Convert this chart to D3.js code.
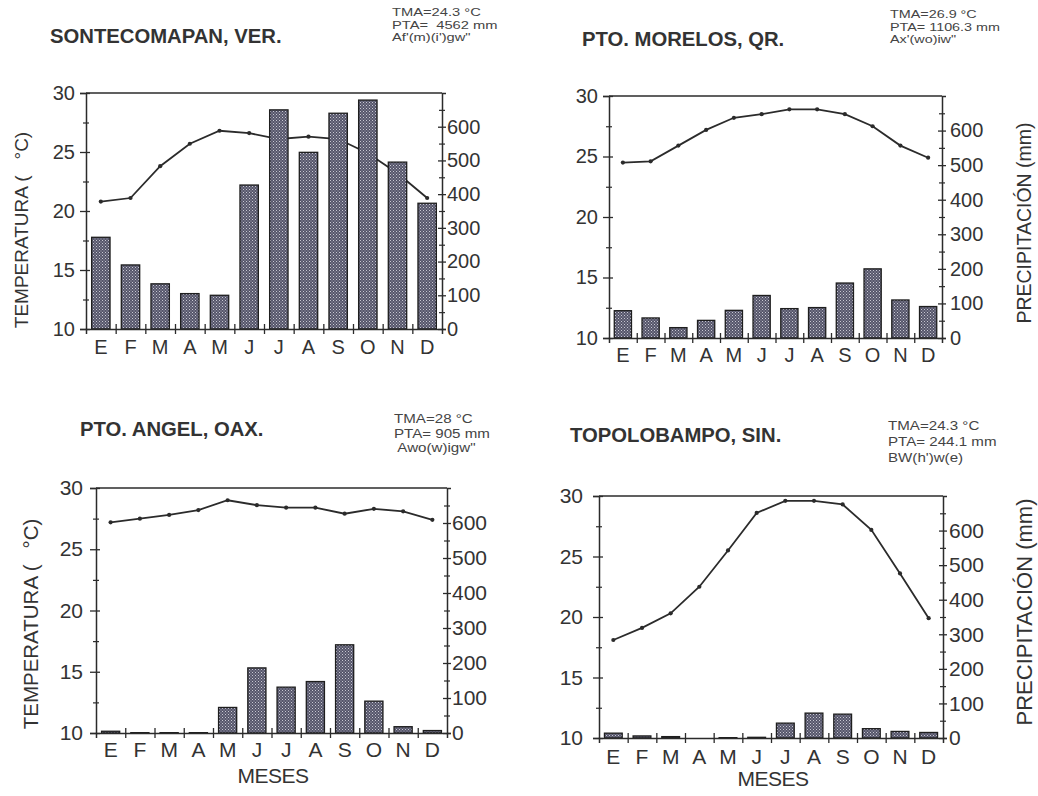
<!DOCTYPE html>
<html>
<head>
<meta charset="utf-8">
<script src="https://cdn.jsdelivr.net/npm/d3@7"></script>
<style>
  html, body { margin: 0; padding: 0; background: #fff; }
  svg { display: block; font-family: "Liberation Sans", Arial, sans-serif; }
</style>
</head>
<body>
<svg id="chart" width="1038" height="796"></svg>
<script>
// ---------- DATA ----------
const months = ["E","F","M","A","M","J","J","A","S","O","N","D"];
const tempTicks = [10, 15, 20, 25, 30];
const tempMinorTicks = [12.5, 17.5, 22.5, 27.5];
const precipTicks = [0, 100, 200, 300, 400, 500, 600];
const precipMinorTicks = [50, 150, 250, 350, 450, 550, 650];

const titles = ["SONTECOMAPAN, VER.", "PTO. MORELOS, QR.", "PTO. ANGEL, OAX.", "TOPOLOBAMPO, SIN."];
const infoSontecomapan = ["TMA=24.3 \u00b0C", "PTA=  4562 mm", "Af'(m)(i')gw\""];
const infoMorelos      = ["TMA=26.9 \u00b0C", "PTA= 1106.3 mm", "Ax'(wo)iw\""];
const infoAngel        = ["TMA=28 \u00b0C", "PTA= 905 mm", " Awo(w)igw\""];
const infoTopolobampo  = ["TMA=24.3 \u00b0C", "PTA= 244.1 mm", "BW(h')w(e)"];

const tempSontecomapan   = [20.8, 21.1, 23.8, 25.7, 26.8, 26.6, 26.1, 26.3, 26.1, 24.9, 23.2, 21.1];
const precipSontecomapan = [272, 190, 134, 105, 100, 427, 650, 524, 640, 679, 495, 373];
const tempMorelos        = [24.5, 24.6, 25.9, 27.2, 28.2, 28.5, 28.9, 28.9, 28.5, 27.5, 25.9, 24.9];
const precipMorelos      = [79, 58, 30, 51, 80, 123, 85, 88, 159, 200, 110, 91];
const tempAngel          = [27.2, 27.5, 27.8, 28.2, 29.0, 28.6, 28.4, 28.4, 27.9, 28.3, 28.1, 27.4];
const precipAngel        = [5, 1, 1, 1, 73, 186, 131, 147, 252, 91, 18, 7];
const tempTopolobampo    = [18.1, 19.1, 20.3, 22.5, 25.5, 28.6, 29.6, 29.6, 29.3, 27.2, 23.6, 19.9];
const precipTopolobampo  = [14, 6, 4, 0, 1, 2, 43, 72, 69, 27, 19, 16];

const tempLabel = "TEMPERATURA (";
const tempUnit = "\u00b0C)";
const precipLabel = "PRECIPITACI\u00d3N (mm)";
const xLabel = "MESES";

// ---------- LAYOUT ----------
const panels = [
  { title: titles[0], info: infoSontecomapan, temp: tempSontecomapan, precip: precipSontecomapan,
    left: 86, right: 442, top: 93, bottom: 329, fs: 20, lgap: 11, rgap: 5,
    titleX: 50, titleY: 43, infoX: 392, infoY: 16, infoPitch: 12.5, infoFs: 11.5, infoSx: 1.28,
    monthY: 354, leftLabel: { x: 28, y: 230, fs: 19 }, rightLabel: null, xlab: null },
  { title: titles[1], info: infoMorelos, temp: tempMorelos, precip: precipMorelos,
    left: 609, right: 942, top: 96, bottom: 338, fs: 20, lgap: 11, rgap: 8,
    titleX: 582, titleY: 46, infoX: 890, infoY: 18, infoPitch: 12.5, infoFs: 11.5, infoSx: 1.25,
    monthY: 362, leftLabel: null, rightLabel: { x: 1031, y: 223, fs: 19.5 }, xlab: null },
  { title: titles[2], info: infoAngel, temp: tempAngel, precip: precipAngel,
    left: 96, right: 447, top: 488, bottom: 733, fs: 21, lgap: 13, rgap: 5,
    titleX: 80, titleY: 436, infoX: 394, infoY: 423, infoPitch: 14.5, infoFs: 13.5, infoSx: 1.12,
    monthY: 757, leftLabel: { x: 38, y: 624, fs: 20.5 }, rightLabel: null, xlab: { x: 273, y: 783 } },
  { title: titles[3], info: infoTopolobampo, temp: tempTopolobampo, precip: precipTopolobampo,
    left: 599, right: 943, top: 496, bottom: 738, fs: 21, lgap: 16, rgap: 6,
    titleX: 570, titleY: 442, infoX: 888, infoY: 430, infoPitch: 16, infoFs: 13.5, infoSx: 1.12,
    monthY: 764, leftLabel: null, rightLabel: { x: 1032, y: 612, fs: 22 }, xlab: { x: 773, y: 786 } }
];

const ink = "#2b2b2b";
const textInk = "#333";

const svg = d3.select("#chart");

// bar pattern (dotted grey screen)
const defs = svg.append("defs");
const pat = defs.append("pattern").attr("id", "screen")
  .attr("width", 3).attr("height", 3).attr("patternUnits", "userSpaceOnUse");
pat.append("rect").attr("width", 3).attr("height", 3).attr("fill", "#55556a");
pat.append("rect").attr("x", 0).attr("y", 0).attr("width", 1).attr("height", 1).attr("fill", "#c8c8d2");
pat.append("rect").attr("x", 1.5).attr("y", 1.5).attr("width", 1).attr("height", 1).attr("fill", "#b0b0bc");

panels.forEach(p => {
  const g = svg.append("g");
  const idx = d3.range(12);
  const x = d3.scaleBand().domain(idx).range([p.left, p.right]).padding(0);
  const xb = d3.scaleLinear().domain([0, 12]).range([p.left, p.right]);
  const yT = d3.scaleLinear().domain([10, 30]).range([p.bottom, p.top]);
  const yP = d3.scaleLinear().domain([0, 700]).range([p.bottom, p.top]);
  const bw = x.bandwidth();

  // title
  g.append("text")
    .attr("transform", `translate(${p.titleX},${p.titleY}) scale(1.04,1)`)
    .attr("font-size", 19.5).attr("font-weight", "bold").attr("fill", textInk)
    .text(p.title);

  // info block
  p.info.forEach((t, i) => {
    g.append("text")
      .attr("transform", `translate(${p.infoX},${p.infoY + i * p.infoPitch}) scale(${p.infoSx},1)`)
      .attr("font-size", p.infoFs).attr("fill", "#444")
      .style("white-space", "pre")
      .text(t);
  });

  // temperature line (behind bars)
  const line = d3.line().x((d, i) => x(i) + bw / 2).y(d => yT(d));
  g.append("path").datum(p.temp).attr("d", line)
    .attr("fill", "none").attr("stroke", ink).attr("stroke-width", 1.8);
  g.selectAll(".pt").data(p.temp).join("circle")
    .attr("cx", (d, i) => x(i) + bw / 2).attr("cy", d => yT(d)).attr("r", 2.1)
    .attr("fill", ink);

  // bars
  g.selectAll(".bar").data(p.precip).join("rect")
    .attr("x", (d, i) => x(i) + bw * 0.19)
    .attr("width", bw * 0.62)
    .attr("y", d => yP(d))
    .attr("height", d => Math.max(0, yP(0) - yP(d)))
    .attr("fill", "url(#screen)")
    .attr("stroke", "#1e1e1e").attr("stroke-width", 1.3);

  // top frame line
  g.append("line").attr("x1", p.left).attr("x2", p.right)
    .attr("y1", p.top).attr("y2", p.top)
    .attr("stroke", ink).attr("stroke-width", 1.5);

  // left axis (temperature)
  const la = g.append("g").attr("transform", `translate(${p.left},0)`)
    .call(d3.axisLeft(yT).tickValues(tempTicks).tickSize(6).tickPadding(p.lgap - 6));
  la.select(".domain").attr("stroke", ink).attr("stroke-width", 1.5);
  la.selectAll(".tick line").attr("x1", 4).attr("stroke", ink).attr("stroke-width", 1.3);
  la.selectAll(".tick text").attr("font-size", p.fs).attr("fill", textInk).attr("font-family", null);
  const lam = g.append("g").attr("transform", `translate(${p.left},0)`)
    .call(d3.axisLeft(yT).tickValues(tempMinorTicks).tickSize(3).tickFormat(""));
  lam.select(".domain").remove();
  lam.selectAll(".tick line").attr("x1", 3).attr("stroke", ink).attr("stroke-width", 1.2);

  // right axis (precipitation)
  const ra = g.append("g").attr("transform", `translate(${p.right},0)`)
    .call(d3.axisRight(yP).tickValues(precipTicks).tickSize(4).tickPadding(p.rgap - 4));
  ra.select(".domain").attr("stroke", ink).attr("stroke-width", 1.5);
  ra.selectAll(".tick line").attr("x1", -4).attr("stroke", ink).attr("stroke-width", 1.3);
  ra.selectAll(".tick text").attr("font-size", p.fs).attr("fill", textInk).attr("font-family", null);
  const ram = g.append("g").attr("transform", `translate(${p.right},0)`)
    .call(d3.axisRight(yP).tickValues(precipMinorTicks).tickSize(3).tickFormat(""));
  ram.select(".domain").remove();
  ram.selectAll(".tick line").attr("x1", -3).attr("stroke", ink).attr("stroke-width", 1.2);

  // bottom axis with boundary ticks
  const ba = g.append("g").attr("transform", `translate(0,${p.bottom})`)
    .call(d3.axisBottom(xb).tickValues(d3.range(1, 12)).tickSize(5).tickFormat(""));
  ba.select(".domain").attr("stroke", ink).attr("stroke-width", 1.5);
  ba.selectAll(".tick line").attr("y1", -5).attr("stroke", ink).attr("stroke-width", 1.3);

  // month labels
  const ml = g.append("g").attr("transform", `translate(0,${p.monthY})`)
    .call(d3.axisBottom(x).tickSize(0).tickPadding(0).tickFormat(i => months[i]));
  ml.select(".domain").remove();
  ml.selectAll(".tick text").attr("font-size", p.fs).attr("fill", textInk)
    .attr("font-family", null).attr("dy", 0);

  // left label
  if (p.leftLabel) {
    const t = g.append("text")
      .attr("transform", `translate(${p.leftLabel.x},${p.leftLabel.y}) rotate(-90)`)
      .attr("text-anchor", "middle").attr("font-size", p.leftLabel.fs).attr("fill", textInk);
    t.append("tspan").text(tempLabel);
    t.append("tspan").attr("dx", 16).text(tempUnit);
  }
  if (p.rightLabel) {
    g.append("text")
      .attr("transform", `translate(${p.rightLabel.x},${p.rightLabel.y}) rotate(-90)`)
      .attr("text-anchor", "middle").attr("font-size", p.rightLabel.fs).attr("fill", textInk)
      .text(precipLabel);
  }
  if (p.xlab) {
    g.append("text").attr("x", p.xlab.x).attr("y", p.xlab.y)
      .attr("text-anchor", "middle").attr("font-size", 21).attr("fill", textInk)
      .attr("letter-spacing", -0.5)
      .text(xLabel);
  }
});
</script>
</body>
</html>
